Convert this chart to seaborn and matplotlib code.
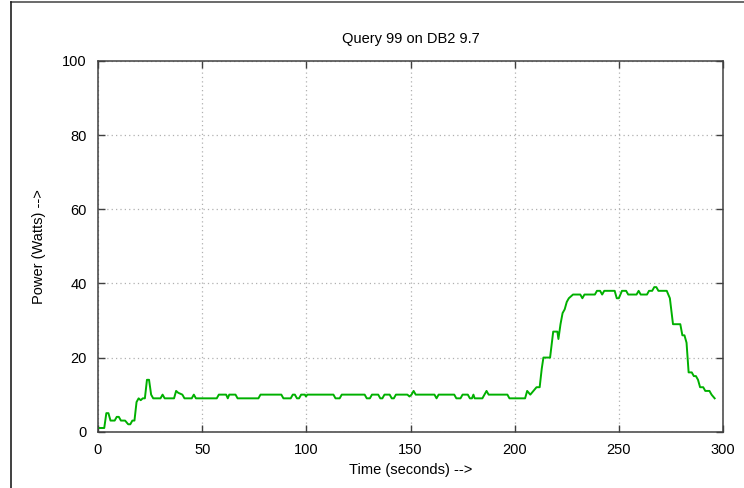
import matplotlib
matplotlib.use("Agg")
import matplotlib.pyplot as plt
from matplotlib.lines import Line2D
import seaborn as sns
import pandas as pd

title = "Query 99 on DB2 9.7"
x_label = "Time (seconds) -->"
y_label = "Power (Watts) -->"
x_ticks = [0, 50, 100, 150, 200, 250, 300]
y_ticks = [0, 20, 40, 60, 80, 100]

time_s = [0, 3, 4, 5, 6, 8, 9, 10, 11, 13, 14.5, 15.5, 16.5, 17.5, 18.5, 19.5, 20.5, 21.5,
          22.5, 23.5, 24.5, 25.5, 26.5, 30, 31, 32, 36.5, 37.5, 38.5, 40.5, 41.5, 45, 46, 47,
          57, 58, 61.5, 62.3, 63, 66, 67, 77, 78, 88, 89, 92.5, 93.5, 94.5, 95.5, 96.5, 97.5,
          99.3, 99.8, 100.5, 113, 114, 116, 117, 128, 129, 130.5, 131.5, 134.5, 135.5, 136.5,
          137.5, 140, 141, 142, 143, 148.5, 149.5, 150.5, 151.5, 152.5, 161.5, 162.5, 163.5,
          171, 172, 174, 175, 177.5, 178.5, 179.5, 180.2, 180.8, 184.5, 185.5, 186.5, 187.5,
          196.5, 197.5, 205, 206, 207.5, 209, 210.5, 212, 213, 213.8, 217, 218.5, 220.5, 221,
          222, 223, 224, 225, 226, 227, 228, 231.5, 232.5, 233.5, 238.5, 239.5, 241, 242, 243,
          248, 249, 250, 251.5, 253.5, 254.5, 258.5, 259.5, 260.5, 263.5, 264.5, 266, 267, 268,
          269, 273, 274.5, 276, 279.5, 280.5, 281.5, 282.5, 283.5, 285, 286, 287, 288, 289,
          290.5, 291.5, 293.5, 294.5, 296]
power_w = [1, 1, 5, 5, 3, 3, 4, 4, 3, 3, 2, 2, 3, 3, 8, 9, 8.5, 9,
           9, 14, 14, 10, 9, 9, 10, 9, 9, 11, 10.5, 10, 9, 9, 10, 9,
           9, 10, 10, 9, 10, 10, 9, 9, 10, 10, 9, 9, 10, 10, 9, 9, 10,
           10, 9.5, 10, 10, 9, 9, 10, 10, 9, 9, 10, 10, 9, 9,
           10, 10, 9, 9, 10, 10, 9.5, 10, 11, 10, 10, 9, 10,
           10, 9, 9, 10, 10, 9, 9, 10, 9, 9, 10, 11, 10,
           10, 9, 9, 11, 10, 11, 12, 12, 17, 20, 20, 27, 27, 25,
           29, 32, 33, 35, 36, 36.5, 37, 37, 36, 37, 37, 38, 38, 37, 38,
           38, 36, 36, 38, 38, 37, 37, 38, 37, 37, 38, 38, 39, 39,
           38, 38, 36, 29, 29, 26, 26, 24, 16, 16, 15, 15, 14, 12,
           12, 11, 11, 10, 9]

df = pd.DataFrame({"time": time_s, "power": power_w})

plt.rcParams["font.family"] = ["Liberation Sans", "DejaVu Sans"]
fig = plt.figure(figsize=(7.44, 4.88), dpi=100)
ax = fig.add_axes([98 / 744, 1 - 431.7 / 488, (723 - 98) / 744, (431.7 - 61) / 488])

sns.lineplot(data=df, x="time", y="power", ax=ax, color="#00b000", linewidth=1.4)

ax.set_xlim(0, 300)
ax.set_ylim(0, 100)
ax.set_xticks(x_ticks)
ax.set_yticks(y_ticks)
ax.grid(True, color="#b0b0b0", linestyle=(0, (1, 2.5)), linewidth=0.9)
ax.tick_params(direction="in", length=5, width=1, color="#404040", labelsize=10.5,
               top=True, right=True, pad=8)
for s in ax.spines.values():
    s.set_color("#404040")
    s.set_linewidth(1.1)
ax.set_title(title, fontsize=10.5, pad=13)
ax.set_xlabel(x_label, fontsize=10.5, labelpad=4.5)
ax.set_ylabel(y_label, fontsize=10.5, labelpad=12)

fig.add_artist(Line2D([11 / 744, 1], [1 - 2 / 488, 1 - 2 / 488], transform=fig.transFigure,
                      color="#505050", linewidth=1.2))
fig.add_artist(Line2D([11 / 744, 11 / 744], [0, 1 - 2 / 488], transform=fig.transFigure,
                      color="#202020", linewidth=1.2))

fig.savefig("out.png", dpi=100)
